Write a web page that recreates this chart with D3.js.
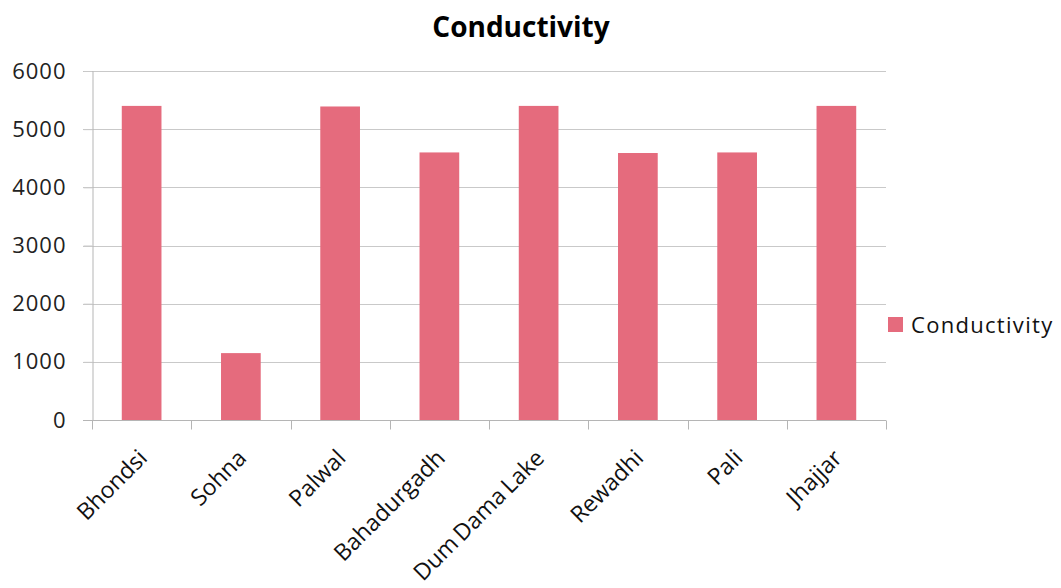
<!DOCTYPE html>
<html>
<head>
<meta charset="utf-8">
<script src="https://cdn.jsdelivr.net/npm/d3@7"></script>
<style>
  html, body { margin: 0; padding: 0; background: #fff; }
  svg { display: block; }
</style>
</head>
<body>
<script>
// Conductivity per sampling site
const categories = ["Bhondsi", "Sohna", "Palwal", "Bahadurgadh", "Dum Dama Lake", "Rewadhi", "Pali", "Jhajjar"];
const conductivity = [5400, 1150, 5390, 4600, 5400, 4590, 4600, 5400];
const yTicks = [0, 1000, 2000, 3000, 4000, 5000, 6000];
const seriesName = "Conductivity";
const chartTitle = "Conductivity";

const W = 1061, H = 588;
const margin = { left: 92, right: 175, top: 71, bottom: 168 };
const barColor = "#e56b7d";
const labelFont = "'Open Sans', sans-serif";

const svg = d3.select("body").append("svg").attr("width", W).attr("height", H);

const x = d3.scaleBand()
  .domain(categories)
  .range([margin.left, W - margin.right])
  .paddingInner(0.6)
  .paddingOuter(0.3);

const y = d3.scaleLinear()
  .domain([0, 6000])
  .range([H - margin.bottom, margin.top]);

// horizontal gridlines
svg.append("g")
  .selectAll("line")
  .data(yTicks.filter(d => d > 0))
  .join("line")
  .attr("x1", margin.left - 9)
  .attr("x2", W - margin.right)
  .attr("y1", d => Math.round(y(d)) + 0.5)
  .attr("y2", d => Math.round(y(d)) + 0.5)
  .attr("stroke", "#c9c9c9")
  .attr("stroke-width", 1);

// value axis
const yAxis = svg.append("g")
  .attr("transform", `translate(${margin.left + 0.5},0)`)
  .call(d3.axisLeft(y).tickValues(yTicks).tickSize(9).tickPadding(17).tickFormat(d3.format("d")));
yAxis.select(".domain").attr("stroke", "#b5b5b5");
yAxis.selectAll(".tick line").attr("stroke", "#c9c9c9");
yAxis.selectAll(".tick text")
  .attr("font-family", labelFont)
  .attr("font-size", 22)
  .attr("letter-spacing", 1)
  .attr("fill", "#222");

// bars
svg.append("g")
  .selectAll("rect")
  .data(categories.map((c, i) => ({ c, v: conductivity[i] })))
  .join("rect")
  .attr("x", d => x(d.c))
  .attr("width", x.bandwidth())
  .attr("y", d => y(d.v))
  .attr("height", d => y(0) - y(d.v))
  .attr("fill", barColor);

// category axis with ticks at band boundaries
const baseY = Math.round(y(0)) + 0.5;
svg.append("line")
  .attr("x1", margin.left - 9).attr("x2", W - margin.right)
  .attr("y1", baseY).attr("y2", baseY)
  .attr("stroke", "#b5b5b5");

const bounds = d3.range(categories.length + 1).map(i => margin.left + i * x.step());
svg.append("g")
  .selectAll("line")
  .data(bounds)
  .join("line")
  .attr("x1", d => Math.round(d) + 0.5).attr("x2", d => Math.round(d) + 0.5)
  .attr("y1", baseY).attr("y2", baseY + 9)
  .attr("stroke", "#b5b5b5");

svg.append("g")
  .selectAll("text")
  .data(categories)
  .join("text")
  .attr("transform", d => `translate(${x(d) + x.bandwidth() / 2 + 7},${baseY + 39}) rotate(-45)`)
  .attr("text-anchor", "end")
  .attr("font-family", labelFont)
  .attr("font-size", 23)
  .attr("word-spacing", -2)
  .attr("fill", "#111")
  .text(d => d);

// title
svg.append("text")
  .attr("x", 521)
  .attr("y", 37)
  .attr("text-anchor", "middle")
  .attr("font-family", "'Open Sans', sans-serif")
  .attr("font-weight", "bold")
  .attr("font-size", 28)
  .attr("fill", "#000")
  .text(chartTitle);

// legend
const lg = svg.append("g").attr("transform", "translate(888,317)");
lg.append("rect").attr("width", 15).attr("height", 15).attr("fill", barColor);
lg.append("text")
  .attr("x", 23).attr("y", 16)
  .attr("font-family", labelFont)
  .attr("font-size", 22)
  .attr("letter-spacing", 1.3)
  .attr("fill", "#111")
  .text(seriesName);
</script>
</body>
</html>
